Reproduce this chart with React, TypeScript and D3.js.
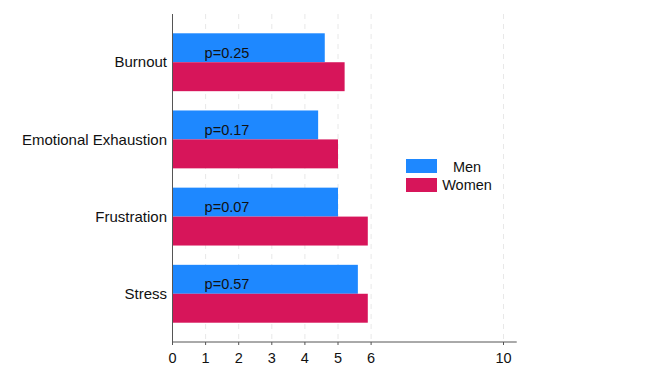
import React from 'react';
import * as d3 from 'd3';

const categories = ['Burnout', 'Emotional Exhaustion', 'Frustration', 'Stress'];
const menValues = [4.6, 4.4, 5.0, 5.6];
const womenValues = [5.2, 5.0, 5.9, 5.9];
const pValues = ['p=0.25', 'p=0.17', 'p=0.07', 'p=0.57'];
const xTicks = [0, 1, 2, 3, 4, 5, 6, 10];
const seriesNames = ['Men', 'Women'];
const seriesColors = ['#1E88FF', '#D7155A'];

const width = 645;
const height = 387;
const left = 172.5;
const top = 14;
const bottom = 342;
const font = '"Liberation Sans", Arial, sans-serif';

export default function App() {
  const x = d3.scaleLinear().domain([0, 10.4]).range([left, left + 10.4 * 33.1]);
  const y = d3.scaleBand<string>().domain(categories).range([top, bottom]).paddingInner(0.25).paddingOuter(0.25);
  const inner = d3.scaleBand<string>().domain(seriesNames).range([0, y.bandwidth()]);
  const series = [menValues, womenValues];

  return (
    <svg width={width} height={height} style={{ position: 'absolute', left: 0, top: 0 }} fontFamily={font}>
      {/* grid */}
      {xTicks.map(t => (
        <line key={'g' + t} x1={x(t)} x2={x(t)} y1={top} y2={bottom} stroke="#e8e8e8" strokeDasharray="5,5" />
      ))}
      {/* bars */}
      {categories.map((c, i) => (
        <g key={c}>
          {series.map((vals, s) => (
            <rect key={s} x={x(0)} y={(y(c) as number) + (inner(seriesNames[s]) as number)}
              width={x(vals[i]) - x(0)} height={inner.bandwidth()} fill={seriesColors[s]} />
          ))}
          <text x={x(1) - 1} y={(y(c) as number) + y.bandwidth() / 2 - 4.5} fontSize={14.5} fill="#111">{pValues[i]}</text>
          <text x={167} y={(y(c) as number) + y.bandwidth() / 2} dy="0.35em" textAnchor="end" fontSize={15} fill="#111">{c}</text>
        </g>
      ))}
      {/* axes */}
      <line x1={left} x2={left} y1={top} y2={bottom} stroke="#555" />
      <line x1={left} x2={x(10.4)} y1={bottom} y2={bottom} stroke="#555" />
      {xTicks.map(t => (
        <g key={'t' + t}>
          <line x1={x(t)} x2={x(t)} y1={bottom} y2={bottom + 3} stroke="#555" />
          <text x={x(t)} y={363} textAnchor="middle" fontSize={14.5} fill="#111">{t}</text>
        </g>
      ))}
      {/* legend */}
      {seriesNames.map((n, s) => (
        <g key={n}>
          <rect x={406} y={159 + s * 19} width={31} height={14} fill={seriesColors[s]} />
          <text x={467} y={171.5 + s * 18.5} textAnchor="middle" fontSize={14.5} fill="#111">{n}</text>
        </g>
      ))}
    </svg>
  );
}
